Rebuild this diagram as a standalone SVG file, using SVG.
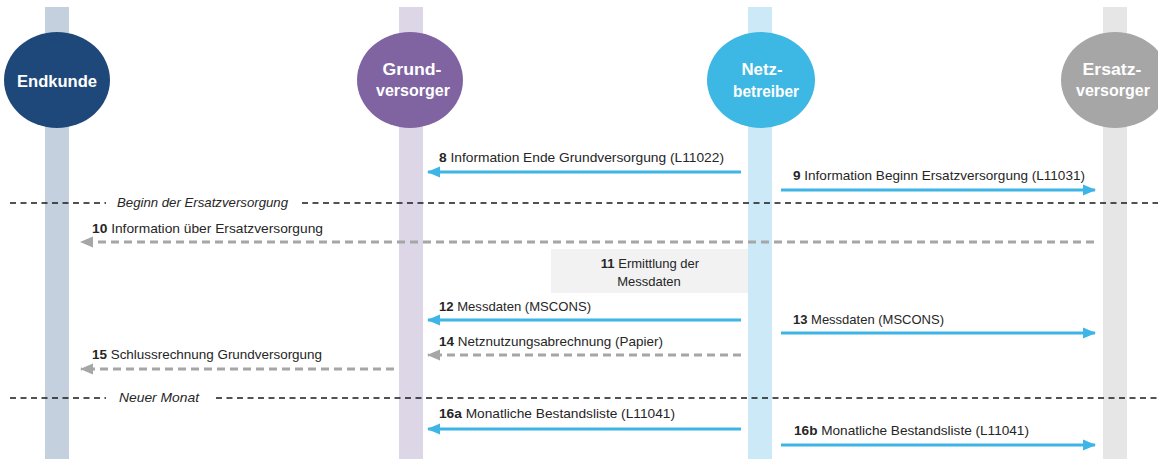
<svg xmlns="http://www.w3.org/2000/svg" width="1158" height="459" viewBox="0 0 1158 459">
  <style>
    .lbl { font-family: "Liberation Sans", Arial, sans-serif; font-size: 13px; fill: #262626; }
    .lbl .n { font-weight: bold; }
    .sep-lbl { font-family: "Liberation Sans", Arial, sans-serif; font-size: 13px; font-style: italic; fill: #262626; }
    .actor { font-family: "Liberation Sans", Arial, sans-serif; font-size: 17px; font-weight: bold; fill: #ffffff; text-anchor: middle; }
    .sep { stroke: #1a1a1a; stroke-width: 1.5; stroke-dasharray: 6 4.5; fill: none; }
    .msg { stroke: #3DB5E6; stroke-width: 3; fill: none; marker-end: url(#headBlue); }
    .msg-dash { stroke: #A6A6A6; stroke-width: 3; stroke-dasharray: 8 5; fill: none; marker-end: url(#headGray); }
  </style>
  <defs>
    <marker id="headBlue" markerUnits="userSpaceOnUse" markerWidth="14" markerHeight="12" refX="12" refY="6" orient="auto">
      <path d="M0,0.5 L13,6 L0,11.5 Z" fill="#3DB5E6"/>
    </marker>
    <marker id="headGray" markerUnits="userSpaceOnUse" markerWidth="14" markerHeight="12" refX="12" refY="6" orient="auto">
      <path d="M0,0.5 L13,6 L0,11.5 Z" fill="#A6A6A6"/>
    </marker>
  </defs>

  <rect width="1158" height="459" fill="#ffffff"/>

  <!-- lifelines -->
  <g id="lifelines">
    <rect x="45" y="7" width="24" height="452" fill="#C5D0DE"/>
    <rect x="399" y="7" width="24" height="452" fill="#DCD6E7"/>
    <rect x="748" y="7" width="24" height="452" fill="#CBE9F6"/>
    <rect x="1103" y="7" width="24" height="452" fill="#E6E6E6"/>
  </g>

  <!-- actors -->
  <g id="endkunde">
    <ellipse cx="57" cy="80" rx="53" ry="48" fill="#1F487A"/>
    <text class="actor" x="57" y="87" textLength="80" lengthAdjust="spacingAndGlyphs">Endkunde</text>
  </g>
  <g id="grundversorger">
    <ellipse cx="410" cy="80" rx="53" ry="48" fill="#8064A2"/>
    <text class="actor" x="412" y="75" textLength="59" lengthAdjust="spacingAndGlyphs">Grund-</text>
    <text class="actor" x="413" y="96" textLength="74" lengthAdjust="spacingAndGlyphs">versorger</text>
  </g>
  <g id="netzbetreiber">
    <ellipse cx="761" cy="80" rx="54" ry="48" fill="#3DB7E4"/>
    <text class="actor" x="762" y="75" textLength="41" lengthAdjust="spacingAndGlyphs">Netz-</text>
    <text class="actor" x="766" y="97" textLength="66" lengthAdjust="spacingAndGlyphs">betreiber</text>
  </g>
  <g id="ersatzversorger">
    <ellipse cx="1115" cy="80" rx="54" ry="48" fill="#A6A6A6"/>
    <text class="actor" x="1112" y="75" textLength="59" lengthAdjust="spacingAndGlyphs">Ersatz-</text>
    <text class="actor" x="1113" y="96" textLength="74" lengthAdjust="spacingAndGlyphs">versorger</text>
  </g>

  <!-- step 11: internal activity -->
  <g id="step11">
    <rect x="551" y="249" width="197" height="44" fill="#F2F2F2"/>
    <text class="lbl" x="650" y="268" text-anchor="middle"><tspan class="n">11</tspan> Ermittlung der</text>
    <text class="lbl" x="649" y="286" text-anchor="middle">Messdaten</text>
  </g>

  <!-- phase separators -->
  <g id="separators">
    <line class="sep" x1="10" y1="203" x2="106" y2="203"/>
    <text class="sep-lbl" x="117" y="207" textLength="171" lengthAdjust="spacingAndGlyphs">Beginn der Ersatzversorgung</text>
    <line class="sep" x1="302" y1="203" x2="1158" y2="203"/>
    <line class="sep" x1="10" y1="398" x2="106" y2="398"/>
    <text class="sep-lbl" x="119" y="402" textLength="80" lengthAdjust="spacingAndGlyphs">Neuer Monat</text>
    <line class="sep" x1="216" y1="398" x2="1158" y2="398"/>
  </g>

  <!-- messages -->
  <g id="connectors">
    <line class="msg" x1="741" y1="172" x2="428" y2="172"/>
    <text class="lbl" x="439" y="162" textLength="285" lengthAdjust="spacingAndGlyphs"><tspan class="n">8</tspan> Information Ende Grundversorgung (L11022)</text>

    <line class="msg" x1="781" y1="190" x2="1095" y2="190"/>
    <text class="lbl" x="793" y="180" textLength="292" lengthAdjust="spacingAndGlyphs"><tspan class="n">9</tspan> Information Beginn Ersatzversorgung (L11031)</text>

    <line class="msg-dash" x1="1094" y1="242" x2="81" y2="242"/>
    <text class="lbl" x="92" y="233" textLength="231" lengthAdjust="spacingAndGlyphs"><tspan class="n">10</tspan> Information über Ersatzversorgung</text>

    <line class="msg" x1="741" y1="320" x2="428" y2="320"/>
    <text class="lbl" x="439" y="311" textLength="152" lengthAdjust="spacingAndGlyphs"><tspan class="n">12</tspan> Messdaten (MSCONS)</text>

    <line class="msg" x1="781" y1="333" x2="1095" y2="333"/>
    <text class="lbl" x="793" y="324" textLength="151" lengthAdjust="spacingAndGlyphs"><tspan class="n">13</tspan> Messdaten (MSCONS)</text>

    <line class="msg-dash" x1="741" y1="355" x2="428" y2="355"/>
    <text class="lbl" x="439" y="346" textLength="224" lengthAdjust="spacingAndGlyphs"><tspan class="n">14</tspan> Netznutzungsabrechnung (Papier)</text>

    <line class="msg-dash" x1="394" y1="369" x2="81" y2="369"/>
    <text class="lbl" x="92" y="359" textLength="230" lengthAdjust="spacingAndGlyphs"><tspan class="n">15</tspan> Schlussrechnung Grundversorgung</text>

    <line class="msg" x1="741" y1="429" x2="428" y2="429"/>
    <text class="lbl" x="439" y="418" textLength="236" lengthAdjust="spacingAndGlyphs"><tspan class="n">16a</tspan> Monatliche Bestandsliste (L11041)</text>

    <line class="msg" x1="781" y1="445" x2="1095" y2="445"/>
    <text class="lbl" x="794" y="435" textLength="235" lengthAdjust="spacingAndGlyphs"><tspan class="n">16b</tspan> Monatliche Bestandsliste (L11041)</text>
  </g>
</svg>
